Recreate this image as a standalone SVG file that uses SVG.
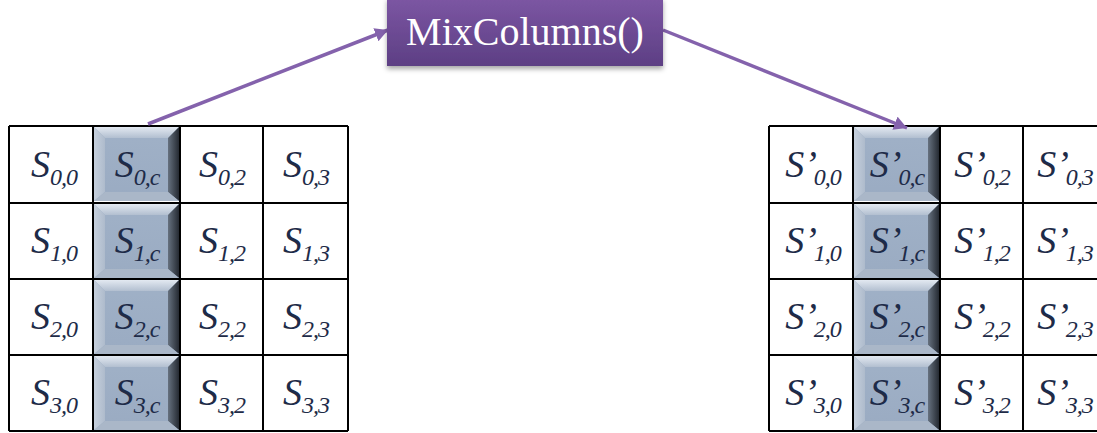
<svg xmlns="http://www.w3.org/2000/svg" xmlns:xlink="http://www.w3.org/1999/xlink" width="1097" height="433" viewBox="0 0 1097 433">
  <style>
    .grid { stroke: #000; stroke-width: 2; fill: none; }
    .s { font-family: "Liberation Serif", "Times New Roman", serif; font-style: italic; font-size: 38px; fill: #1e2b48; text-anchor: middle; }
    .sub { font-size: 24px; letter-spacing: -1px; }
    .title { font-family: "Liberation Serif", "Times New Roman", serif; font-size: 40px; fill: #ffffff; text-anchor: middle; }
    .conn { stroke: #8462ac; stroke-width: 3.5; fill: none; }
  </style>
  <defs>
    <linearGradient id="boxFill" x1="0" y1="0" x2="0" y2="1">
      <stop offset="0" stop-color="#7c56a3"/>
      <stop offset="1" stop-color="#5d3f84"/>
    </linearGradient>
    <linearGradient id="bevTop" x1="0" y1="0" x2="0" y2="1">
      <stop offset="0" stop-color="#e3e9f1"/>
      <stop offset="1" stop-color="#b2bfd0"/>
    </linearGradient>
    <linearGradient id="bevRight" x1="0" y1="0" x2="1" y2="0">
      <stop offset="0" stop-color="#66717f"/>
      <stop offset="1" stop-color="#252a32"/>
    </linearGradient>
    <linearGradient id="bevLeft" x1="0" y1="0" x2="1" y2="0">
      <stop offset="0" stop-color="#c6d0dd"/>
      <stop offset="1" stop-color="#aebbcc"/>
    </linearGradient>
    <linearGradient id="face" x1="0" y1="0" x2="0" y2="1">
      <stop offset="0" stop-color="#a0b1c7"/>
      <stop offset="1" stop-color="#9aabc2"/>
    </linearGradient>
    <filter id="shadow" x="-10%" y="-20%" width="120%" height="150%">
      <feDropShadow dx="0" dy="3" stdDeviation="2.5" flood-color="#000" flood-opacity="0.35"/>
    </filter>
    <marker id="arrow" markerUnits="userSpaceOnUse" markerWidth="16" markerHeight="16" refX="13" refY="7" orient="auto">
      <path d="M0,0 L13,7 L0,14 Z" fill="#8462ac"/>
    </marker>
    <!-- bevelled button, 85 x 74 -->
    <g id="btn">
      <rect x="0" y="0" width="85" height="74" fill="url(#face)"/>
      <polygon points="0,0 85,0 74,11 11,11" fill="url(#bevTop)"/>
      <polygon points="0,0 11,11 11,65 0,74" fill="url(#bevLeft)"/>
      <polygon points="85,0 85,74 74,65 74,11" fill="url(#bevRight)"/>
      <polygon points="0,74 11,65 74,65 85,74" fill="#aab7c8"/>
    </g>
  </defs>

  <rect width="1097" height="433" fill="#ffffff"/>

  <!-- left state grid -->
  <g id="state-in">
    <g class="grid">
      <line x1="9" y1="203" x2="348" y2="203"/>
      <line x1="9" y1="279" x2="348" y2="279"/>
      <line x1="9" y1="355" x2="348" y2="355"/>
    </g>
    <use xlink:href="#btn" x="94" y="127"/>
    <use xlink:href="#btn" x="94" y="204"/>
    <use xlink:href="#btn" x="94" y="280"/>
    <use xlink:href="#btn" x="94" y="356"/>
    <g class="grid">
      <line x1="9" y1="126" x2="348" y2="126"/>
      <line x1="9" y1="431" x2="348" y2="431"/>
      <line x1="9" y1="126" x2="9" y2="431"/>
      <line x1="93" y1="126" x2="93" y2="431"/>
      <line x1="180" y1="126" x2="180" y2="431"/>
      <line x1="263" y1="126" x2="263" y2="431"/>
      <line x1="348" y1="126" x2="348" y2="431"/>
    </g>
    <g id="s00"><text class="s" x="54" y="177">S<tspan class="sub" dy="8">0,0</tspan></text></g>
    <g id="s0c"><text class="s" x="137" y="177">S<tspan class="sub" dy="8">0,c</tspan></text></g>
    <g id="s02"><text class="s" x="222" y="177">S<tspan class="sub" dy="8">0,2</tspan></text></g>
    <g id="s03"><text class="s" x="306" y="177">S<tspan class="sub" dy="8">0,3</tspan></text></g>
    <g id="s10"><text class="s" x="54" y="253">S<tspan class="sub" dy="8">1,0</tspan></text></g>
    <g id="s1c"><text class="s" x="137" y="253">S<tspan class="sub" dy="8">1,c</tspan></text></g>
    <g id="s12"><text class="s" x="222" y="253">S<tspan class="sub" dy="8">1,2</tspan></text></g>
    <g id="s13"><text class="s" x="306" y="253">S<tspan class="sub" dy="8">1,3</tspan></text></g>
    <g id="s20"><text class="s" x="54" y="329">S<tspan class="sub" dy="8">2,0</tspan></text></g>
    <g id="s2c"><text class="s" x="137" y="329">S<tspan class="sub" dy="8">2,c</tspan></text></g>
    <g id="s22"><text class="s" x="222" y="329">S<tspan class="sub" dy="8">2,2</tspan></text></g>
    <g id="s23"><text class="s" x="306" y="329">S<tspan class="sub" dy="8">2,3</tspan></text></g>
    <g id="s30"><text class="s" x="54" y="405">S<tspan class="sub" dy="8">3,0</tspan></text></g>
    <g id="s3c"><text class="s" x="137" y="405">S<tspan class="sub" dy="8">3,c</tspan></text></g>
    <g id="s32"><text class="s" x="222" y="405">S<tspan class="sub" dy="8">3,2</tspan></text></g>
    <g id="s33"><text class="s" x="306" y="405">S<tspan class="sub" dy="8">3,3</tspan></text></g>
  </g>

  <!-- right state grid -->
  <g id="state-out">
    <g class="grid">
      <line x1="769" y1="203" x2="1107" y2="203"/>
      <line x1="769" y1="279" x2="1107" y2="279"/>
      <line x1="769" y1="355" x2="1107" y2="355"/>
    </g>
    <use xlink:href="#btn" x="854" y="127"/>
    <use xlink:href="#btn" x="854" y="204"/>
    <use xlink:href="#btn" x="854" y="280"/>
    <use xlink:href="#btn" x="854" y="356"/>
    <g class="grid">
      <line x1="769" y1="126" x2="1107" y2="126"/>
      <line x1="769" y1="431" x2="1107" y2="431"/>
      <line x1="769" y1="126" x2="769" y2="431"/>
      <line x1="853" y1="126" x2="853" y2="431"/>
      <line x1="940" y1="126" x2="940" y2="431"/>
      <line x1="1023" y1="126" x2="1023" y2="431"/>
    </g>
    <g id="t00"><text class="s" x="813" y="177">S’<tspan class="sub" dx="-3" dy="8">0,0</tspan></text></g>
    <g id="t0c"><text class="s" x="897" y="177">S’<tspan class="sub" dx="-3" dy="8">0,c</tspan></text></g>
    <g id="t02"><text class="s" x="982" y="177">S’<tspan class="sub" dx="-3" dy="8">0,2</tspan></text></g>
    <g id="t03"><text class="s" x="1065" y="177">S’<tspan class="sub" dx="-3" dy="8">0,3</tspan></text></g>
    <g id="t10"><text class="s" x="813" y="253">S’<tspan class="sub" dx="-3" dy="8">1,0</tspan></text></g>
    <g id="t1c"><text class="s" x="897" y="253">S’<tspan class="sub" dx="-3" dy="8">1,c</tspan></text></g>
    <g id="t12"><text class="s" x="982" y="253">S’<tspan class="sub" dx="-3" dy="8">1,2</tspan></text></g>
    <g id="t13"><text class="s" x="1065" y="253">S’<tspan class="sub" dx="-3" dy="8">1,3</tspan></text></g>
    <g id="t20"><text class="s" x="813" y="329">S’<tspan class="sub" dx="-3" dy="8">2,0</tspan></text></g>
    <g id="t2c"><text class="s" x="897" y="329">S’<tspan class="sub" dx="-3" dy="8">2,c</tspan></text></g>
    <g id="t22"><text class="s" x="982" y="329">S’<tspan class="sub" dx="-3" dy="8">2,2</tspan></text></g>
    <g id="t23"><text class="s" x="1065" y="329">S’<tspan class="sub" dx="-3" dy="8">2,3</tspan></text></g>
    <g id="t30"><text class="s" x="813" y="405">S’<tspan class="sub" dx="-3" dy="8">3,0</tspan></text></g>
    <g id="t3c"><text class="s" x="897" y="405">S’<tspan class="sub" dx="-3" dy="8">3,c</tspan></text></g>
    <g id="t32"><text class="s" x="982" y="405">S’<tspan class="sub" dx="-3" dy="8">3,2</tspan></text></g>
    <g id="t33"><text class="s" x="1065" y="405">S’<tspan class="sub" dx="-3" dy="8">3,3</tspan></text></g>
  </g>

  <!-- connectors -->
  <g id="connectors">
    <line class="conn" x1="148" y1="124" x2="388" y2="30" marker-end="url(#arrow)"/>
    <line class="conn" x1="663" y1="30" x2="907" y2="128" marker-end="url(#arrow)"/>
  </g>

  <!-- operation box -->
  <g id="mixcolumns">
    <rect x="387" y="-2" width="276" height="68" fill="url(#boxFill)" filter="url(#shadow)"/>
    <text class="title" x="525" y="45">MixColumns()</text>
  </g>
</svg>
